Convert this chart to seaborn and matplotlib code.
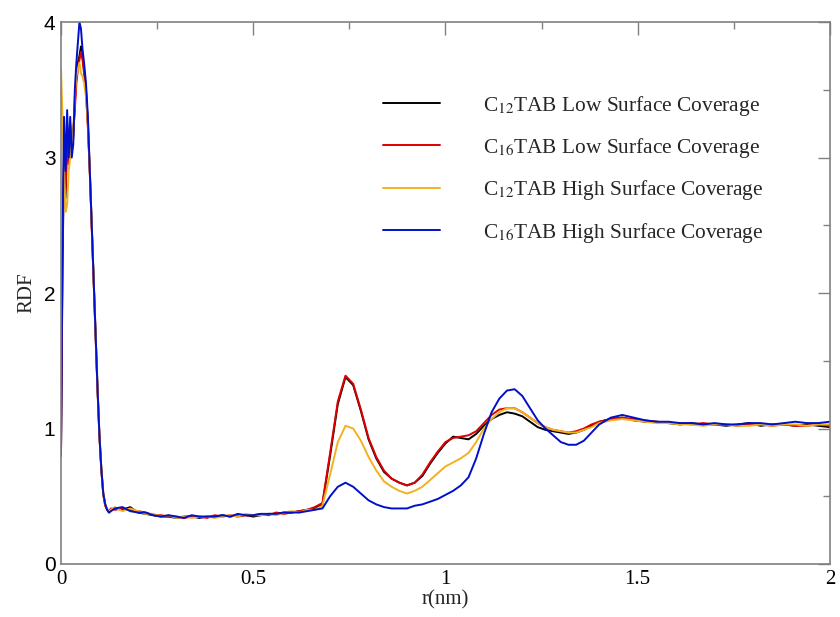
import numpy as np
import pandas as pd
import matplotlib
matplotlib.use("Agg")
import matplotlib.pyplot as plt
import seaborn as sns
from matplotlib.ticker import MultipleLocator

sns.set_theme(style="white")
plt.rcParams["font.family"] = ["Liberation Serif", "DejaVu Serif"]
plt.rcParams["mathtext.fontset"] = "stix"

r = [0.000, 0.004, 0.008, 0.012, 0.016, 0.020, 0.024, 0.028, 0.032, 0.036,
     0.040, 0.044, 0.048, 0.052, 0.056, 0.060, 0.065, 0.070, 0.075, 0.080,
     0.085, 0.090, 0.095, 0.100, 0.105, 0.110, 0.115, 0.120, 0.125, 0.130,
     0.14, 0.16, 0.18, 0.20, 0.22, 0.24, 0.26, 0.28, 0.30, 0.32,
     0.34, 0.36, 0.38, 0.40, 0.42, 0.44, 0.46, 0.48, 0.50, 0.52,
     0.54, 0.56, 0.58, 0.60, 0.62, 0.64, 0.66,
     0.68, 0.70, 0.72, 0.74, 0.76, 0.78, 0.80, 0.82, 0.84, 0.86,
     0.88, 0.90, 0.92, 0.94, 0.96, 0.98, 1.00, 1.02, 1.04, 1.06,
     1.08, 1.10, 1.12, 1.14, 1.16, 1.18, 1.20, 1.22, 1.24, 1.26,
     1.28, 1.30, 1.32, 1.34, 1.36, 1.38, 1.40,
     1.43, 1.46, 1.49, 1.52, 1.55, 1.58, 1.61, 1.64, 1.67, 1.70,
     1.73, 1.76, 1.79, 1.82, 1.85, 1.88, 1.91, 1.94, 1.97, 2.00]

c12_low = [0.80, 2.20, 3.00, 2.70, 3.20, 3.00, 3.25, 3.05, 3.15, 3.40,
           3.60, 3.70, 3.75, 3.82, 3.75, 3.65, 3.50, 3.25, 2.90, 2.50,
           2.10, 1.70, 1.30, 0.95, 0.70, 0.52, 0.44, 0.40, 0.38, 0.40,
           0.41, 0.40, 0.42, 0.38, 0.37, 0.36, 0.35, 0.35, 0.34, 0.35,
           0.35, 0.34, 0.35, 0.35, 0.36, 0.35, 0.36, 0.36, 0.35, 0.36,
           0.37, 0.37, 0.38, 0.38, 0.39, 0.40, 0.41,
           0.44, 0.80, 1.18, 1.38, 1.32, 1.13, 0.92, 0.78, 0.68, 0.63,
           0.60, 0.58, 0.60, 0.65, 0.74, 0.82, 0.89, 0.94, 0.93, 0.92,
           0.96, 1.02, 1.07, 1.10, 1.12, 1.11, 1.09, 1.05, 1.01, 0.99,
           0.98, 0.97, 0.96, 0.97, 0.99, 1.02, 1.05,
           1.07, 1.08, 1.06, 1.05, 1.05, 1.04, 1.03, 1.04, 1.03, 1.03,
           1.02, 1.03, 1.04, 1.02, 1.03, 1.03, 1.02, 1.03, 1.02, 1.01]

c16_low = [0.80, 2.30, 3.05, 2.75, 3.15, 2.95, 3.20, 3.10, 3.20, 3.35,
           3.55, 3.65, 3.72, 3.78, 3.72, 3.62, 3.48, 3.22, 2.88, 2.48,
           2.08, 1.68, 1.28, 0.94, 0.69, 0.51, 0.43, 0.40, 0.39, 0.41,
           0.40, 0.41, 0.40, 0.39, 0.38, 0.36, 0.36, 0.35, 0.35, 0.34,
           0.35, 0.35, 0.34, 0.36, 0.35, 0.36, 0.35, 0.36, 0.36, 0.37,
           0.36, 0.38, 0.37, 0.38, 0.39, 0.40, 0.42,
           0.45, 0.82, 1.20, 1.39, 1.33, 1.14, 0.93, 0.79, 0.69, 0.63,
           0.60, 0.58, 0.60, 0.66, 0.75, 0.83, 0.90, 0.93, 0.94, 0.95,
           0.98, 1.04, 1.10, 1.14, 1.15, 1.15, 1.12, 1.08, 1.04, 1.01,
           0.99, 0.98, 0.97, 0.98, 1.00, 1.03, 1.05,
           1.07, 1.08, 1.07, 1.06, 1.05, 1.04, 1.04, 1.03, 1.04, 1.03,
           1.03, 1.02, 1.03, 1.03, 1.02, 1.03, 1.02, 1.02, 1.03, 1.02]

c12_high = [3.65, 3.30, 2.90, 2.60, 2.65, 2.90, 3.00, 3.10, 3.20, 3.45,
            3.60, 3.65, 3.70, 3.62, 3.60, 3.55, 3.45, 3.25, 2.90, 2.50,
            2.10, 1.70, 1.30, 0.95, 0.70, 0.52, 0.44, 0.40, 0.39, 0.40,
            0.42, 0.39, 0.41, 0.39, 0.37, 0.37, 0.35, 0.36, 0.34, 0.35,
            0.34, 0.35, 0.35, 0.34, 0.35, 0.36, 0.35, 0.37, 0.36, 0.36,
            0.37, 0.36, 0.38, 0.39, 0.38, 0.40, 0.40,
            0.43, 0.66, 0.90, 1.02, 1.00, 0.91, 0.79, 0.69, 0.61, 0.57,
            0.54, 0.52, 0.54, 0.57, 0.62, 0.67, 0.72, 0.75, 0.78, 0.82,
            0.90, 1.00, 1.07, 1.12, 1.15, 1.15, 1.12, 1.08, 1.04, 1.01,
            0.99, 0.98, 0.97, 0.97, 0.99, 1.01, 1.04,
            1.06, 1.07, 1.06, 1.05, 1.04, 1.04, 1.03, 1.03, 1.02, 1.03,
            1.03, 1.02, 1.02, 1.03, 1.02, 1.03, 1.03, 1.02, 1.03, 1.03]

c16_high = [0.80, 2.40, 3.30, 2.90, 3.35, 3.00, 3.30, 3.00, 3.10, 3.50,
            3.70, 3.85, 4.00, 3.95, 3.80, 3.70, 3.55, 3.30, 2.90, 2.50,
            2.10, 1.70, 1.30, 0.95, 0.70, 0.52, 0.44, 0.40, 0.38, 0.39,
            0.41, 0.42, 0.39, 0.38, 0.38, 0.36, 0.35, 0.36, 0.35, 0.34,
            0.36, 0.35, 0.35, 0.35, 0.36, 0.35, 0.37, 0.36, 0.36, 0.37,
            0.37, 0.37, 0.38, 0.38, 0.38, 0.39, 0.40,
            0.41, 0.50, 0.57, 0.60, 0.57, 0.52, 0.47, 0.44, 0.42, 0.41,
            0.41, 0.41, 0.43, 0.44, 0.46, 0.48, 0.51, 0.54, 0.58, 0.64,
            0.78, 0.96, 1.12, 1.22, 1.28, 1.29, 1.24, 1.15, 1.06, 1.00,
            0.95, 0.90, 0.88, 0.88, 0.91, 0.97, 1.03,
            1.08, 1.10, 1.08, 1.06, 1.05, 1.05, 1.04, 1.04, 1.03, 1.04,
            1.03, 1.03, 1.04, 1.04, 1.03, 1.04, 1.05, 1.04, 1.04, 1.05]

labels = [r"C$_{12}$TAB Low Surface Coverage",
          r"C$_{16}$TAB Low Surface Coverage",
          r"C$_{12}$TAB High Surface Coverage",
          r"C$_{16}$TAB High Surface Coverage"]
colors = ["#000000", "#e00000", "#f2b21e", "#0010c8"]
series = [c12_low, c16_low, c12_high, c16_high]

fig = plt.figure(figsize=(8.4, 6.17), dpi=100)
ax = fig.add_axes([0.0726, 0.0859, 0.9154, 0.8784])

for lab, col, vals in zip(labels, colors, series):
    df = pd.DataFrame({"r": r, "g": vals})
    sns.lineplot(data=df, x="r", y="g", ax=ax, color=col, lw=1.4,
                 label=lab, sort=False, estimator=None)

ax.set_xlim(0, 2)
ax.set_ylim(0, 4)
ax.xaxis.set_minor_locator(MultipleLocator(0.25))
ax.yaxis.set_minor_locator(MultipleLocator(0.5))
ax.set_xticks([0, 0.5, 1, 1.5, 2])
ax.set_xticklabels(["0", "0.5", "1", "1.5", "2"])
ax.set_yticks([0, 1, 2, 3, 4])
ax.set_yticklabels(["0", "1", "2", "3", "4"], fontfamily="Liberation Sans")
ax.tick_params(which="both", direction="in", top=True, right=True,
               color="#808080", width=1.0, labelsize=15, labelcolor="black")
ax.tick_params(which="major", length=9, pad=4)
ax.tick_params(which="minor", length=5)
for s in ax.spines.values():
    s.set_color("#808080")
    s.set_linewidth(1.2)

ax.set_xlabel("r(nm)", fontsize=15, labelpad=1)
ax.set_ylabel("RDF", fontsize=15, labelpad=5)

leg = ax.legend(loc="upper left", bbox_to_anchor=(0.419, 0.868), frameon=False,
                fontsize=15.4, handlelength=2.67, handletextpad=2.0,
                labelspacing=0.86, borderpad=0, borderaxespad=0)
for line in leg.get_lines():
    line.set_linewidth(1.4)

fig.savefig("out.png", dpi=100)
